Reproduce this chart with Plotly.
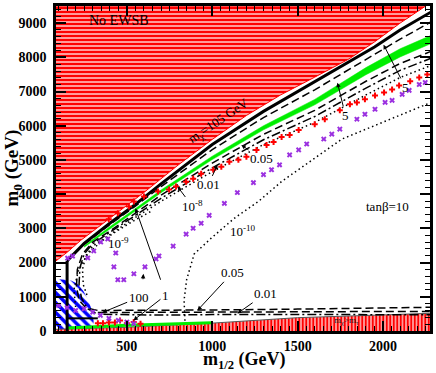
"""
plot.py
=======
m0 - m1/2 plane (tan beta = 10) with excluded regions and contour lines.
"""

import plotly.graph_objects as go

# ── Data (m1/2 , m0 in GeV) ──────────────────────────────────────────────────
# no EWSB boundary (upper left)
ewsb_x = [85, 150, 230, 400, 600, 800, 1000, 1200, 1400, 1600, 1800, 1950, 2100, 2250]
ewsb_y = [2050, 2300, 2650, 3300, 4050, 4850, 5600, 6300, 6900, 7420, 7950, 8450, 9000, 9500]

# chargino limit m_chi = 105 GeV (thick solid)
lep_x = [150, 250, 400, 550, 700, 1000, 1300, 1600, 1800, 1950, 2100, 2290]
lep_y = [2050, 2560, 3150, 3700, 4300, 5450, 6420, 7280, 7850, 8300, 8800, 9350]
lepv_x = [150, 150]
lepv_y = [0, 2050]
leph_x = [150, 330]
leph_y = [370, 370]

# green band (focus point strip)
green_x = [250, 400, 550, 700, 1000, 1300, 1600, 1900, 2100, 2290]
green_hi = [2490, 3050, 3580, 4120, 5110, 6000, 6770, 7700, 8250, 8660]
green_lo = [2450, 2990, 3510, 4040, 5010, 5880, 6610, 7490, 8010, 8420]

# green strip at the bottom (coannihilation)
coan_x = [150, 300, 500, 700, 1000]
coan_y = [90, 130, 170, 200, 240]

# stau LSP region (bottom)
stau_x = [85, 300, 500, 1000, 1500, 2000, 2290]
stau_y = [50, 80, 110, 230, 390, 470, 520]

# blue hatched region (lower left)
blue_x = [85, 170, 210, 245, 275, 295, 305, 305]
blue_y = [1520, 1480, 1380, 1170, 900, 600, 300, 0]

# contour above the green band (dashed)
dup_x = [250, 400, 550, 700, 1000, 1300, 1600, 1900, 2100, 2290]
dup_y = [2530, 3110, 3650, 4220, 5300, 6240, 7050, 7950, 8530, 9060]

# 0.05 contour (dashed)
c005_x = [2290, 2100, 1900, 1600, 1300, 1000, 700, 550, 400, 300, 240, 210, 205, 220,
          260, 330, 600, 1000, 1500, 2000, 2290]
c005_y = [8190, 7820, 7300, 6450, 5750, 4910, 3970, 3440, 2920, 2600, 2250, 1800, 1300, 900,
          680, 600, 600, 615, 640, 670, 695]

# 0.01 contour (dash-dot)
c001_x = [2290, 2100, 1900, 1600, 1300, 1000, 700, 550, 400, 300, 250, 225, 220, 235,
          270, 330, 700, 1000, 1500, 2000, 2290]
c001_y = [7990, 7620, 7100, 6270, 5590, 4770, 3880, 3380, 2870, 2550, 2250, 1850, 1350, 950,
          650, 490, 465, 480, 482, 480, 475]

# second dashed line along the bottom
bot_x = [330, 700, 1000, 1500, 2000, 2290]
bot_y = [540, 550, 560, 565, 570, 572]

# dotted contours in the bundle
dot1_x = [2290, 2100, 1900, 1600, 1300, 1000, 700, 550, 400, 300, 260, 240, 245, 270]
dot1_y = [7780, 7410, 6900, 6100, 5450, 4660, 3790, 3320, 2820, 2480, 2200, 1800, 1350, 1000]
dot2_x = [200, 190, 215, 270, 350, 450, 550, 650]
dot2_y = [700, 1200, 1750, 2250, 2620, 2950, 3250, 3520]

# 10^-10 dotted contour
d10_x = [840, 835, 850, 894, 994, 1129, 1271, 1406, 1759, 2290]
d10_y = [300, 900, 1500, 2250, 2715, 3295, 3790, 4370, 5610, 6700]

# red plus points
plus_x = [394, 447, 512, 541, 600, 682, 747, 788, 847, 888, 935, 1006, 1053, 1100,
          1153, 1200, 1259, 1318, 1359, 1406, 1453, 1506, 1600, 1659, 1747, 1806,
          1847, 1894, 1953, 2006, 2053, 2094, 2159, 2212, 2259,
          330, 360, 395, 430, 460, 500, 540, 580]
plus_y = [3265, 3439, 3641, 3786, 3931, 4076, 4134, 4221, 4366, 4453, 4598, 4714, 4800, 4945,
          5003, 5090, 5293, 5438, 5525, 5670, 5727, 5872, 6046, 6191, 6452, 6626,
          6680, 6771, 6887, 6974, 7061, 7177, 7300, 7409, 7495,
          225, 225, 250, 250, 310, 230, 260, 215]

# purple x points
cross_x = [100, 150, 200, 250, 300, 345, 395, 450, 500, 540,
           153, 182, 271, 306, 347, 388, 435, 424, 447, 482, 541, 606, 671, 688,
           771, 847, 888, 935, 982, 1071, 1147, 1241, 1300, 1347, 1394, 1453, 1506,
           1553, 1653, 1700, 1747, 1847, 1894, 1953, 2012, 2053, 2112, 2153, 2212, 2247]
cross_y = [750, 680, 600, 650, 550, 455, 370, 310, 260, 220,
           2130, 2190, 2135, 2340, 2600, 2690, 2280, 1875, 1498, 1498, 1672, 1875, 2106, 2193,
           2483, 2830, 3004, 3149, 3381, 3729, 4047, 4337, 4569, 4714, 4858, 5148, 5293,
           5467, 5611, 5756, 5901, 6191, 6336, 6481, 6684, 6742, 6916, 7032, 7206, 7264]

SERIF = "Liberation Serif"
GREEN = "#00ee00"

fig = go.Figure()


def add_line(x, y, dash="solid", width=1.3, color="black"):
    fig.add_trace(go.Scatter(
        x=x, y=y, mode="lines",
        line=dict(color=color, width=width, dash=dash),
        hoverinfo="skip", showlegend=False,
    ))


# ── Shaded regions ────────────────────────────────────────────────────────────
fig.add_trace(go.Scatter(
    x=ewsb_x + [ewsb_x[0]], y=ewsb_y + [ewsb_y[-1]],
    mode="lines", fill="toself", fillcolor="white", line=dict(color="red", width=1),
    fillpattern=dict(shape="-", fgcolor="#ff0000", bgcolor="white", size=4,
                     solidity=0.7, fgopacity=1),
    hoverinfo="skip", showlegend=False,
))
fig.add_trace(go.Scatter(
    x=blue_x + [blue_x[0]], y=blue_y + [blue_y[-1]],
    mode="lines", fill="toself", fillcolor="white", line=dict(color="blue", width=0),
    fillpattern=dict(shape="\\", fgcolor="#0000ff", bgcolor="white", size=7,
                     solidity=0.5, fgopacity=1),
    hoverinfo="skip", showlegend=False,
))
fig.add_trace(go.Scatter(
    x=stau_x, y=stau_y,
    mode="lines", fill="tozeroy", fillcolor="white", line=dict(color="#555555", width=1),
    fillpattern=dict(shape="|", fgcolor="#ff0000", bgcolor="white", size=3.5,
                     solidity=0.7, fgopacity=1),
    hoverinfo="skip", showlegend=False,
))
fig.add_trace(go.Scatter(
    x=green_x + green_x[::-1], y=green_hi + green_lo[::-1],
    mode="lines", fill="toself", fillcolor=GREEN, line=dict(color=GREEN, width=0.5),
    hoverinfo="skip", showlegend=False,
))
add_line(coan_x, coan_y, width=3, color=GREEN)

# ── Contours ──────────────────────────────────────────────────────────────────
add_line(d10_x, d10_y, dash="1.5px,3px", width=1.5)
add_line(dot2_x, dot2_y, dash="1.5px,3px", width=1.5)
add_line(dot1_x, dot1_y, dash="1.5px,3px", width=1.5)
add_line(c001_x, c001_y, dash="9px,3px,2px,3px", width=1.5)
add_line(c005_x, c005_y, dash="8px,4px", width=1.5)
add_line(bot_x, bot_y, dash="8px,4px", width=1.5)
add_line(dup_x, dup_y, dash="8px,4px", width=1.5)
add_line(lep_x, lep_y, width=3)
add_line(lepv_x, lepv_y, width=3)
add_line(leph_x, leph_y, width=2)

# ── Scan points ───────────────────────────────────────────────────────────────
fig.add_trace(go.Scatter(
    x=plus_x, y=plus_y, mode="markers",
    marker=dict(symbol="cross", size=5, color="red"),
    hoverinfo="skip", showlegend=False,
))
fig.add_trace(go.Scatter(
    x=cross_x, y=cross_y, mode="markers",
    marker=dict(symbol="x", size=5, color="#9b30e0"),
    hoverinfo="skip", showlegend=False,
))

# ── Labels ────────────────────────────────────────────────────────────────────
LBL = dict(family=SERIF, size=13, color="black")
arrows = [
    # text, text x, text y, tip x, tip y
    ("0.01", 977, 4270, 1030, 4860),
    ("0.05", 1288, 5030, 1170, 5440),
    ("10<sup>-8</sup>", 884, 3640, 797, 4220),
    ("100", 569, 980, 357, 540),
    (" ", 590, 1250, 597, 1670),
    ("1", 726, 1040, 538, 310),
    (" ", 715, 1250, 550, 3590),
    ("0.05", 1117, 1700, 913, 600),
    ("0.01", 1311, 1090, 1147, 510),
    ("5", 1780, 6300, 1733, 7260),
    ("5", 2131, 7120, 2003, 8370),
]
annotations = []
for text, tx, ty, hx, hy in arrows:
    annotations.append(dict(
        x=hx, y=hy, ax=tx, ay=ty, axref="x", ayref="y", xref="x", yref="y",
        text=text, showarrow=True, arrowhead=2, arrowsize=0.9, arrowwidth=1,
        arrowcolor="black", standoff=0, font=LBL,
    ))

plain = [
    ("No EWSB", 455, 9090, 0, 14),
    ("tanβ=10", 2024, 3640, 0, 13),
    ("10<sup>-9</sup>", 452, 2560, 0, 13),
    ("10<sup>-10</sup>", 1178, 2910, 0, 13),
    ("m<sub>χ</sub>=105 GeV", 1036, 6130, -34, 13),
]
for text, tx, ty, ang, sz in plain:
    annotations.append(dict(x=tx, y=ty, text=text, showarrow=False, textangle=ang,
                            font=dict(family=SERIF, size=sz, color="black")))

annotations.append(dict(x=1788, y=310, text="m<sub>χ</sub>>m<sub>τ</sub>",
                        showarrow=False, font=dict(family=SERIF, size=9, color="#222")))

# axis titles
TITLE_FONT = dict(family=SERIF, size=19, color="black", weight="bold")
annotations.append(dict(
    xref="paper", yref="paper", x=-0.115, y=0.503, xanchor="center", yanchor="middle",
    textangle=-90, showarrow=False, text="m<sub>0</sub> (GeV)", font=TITLE_FONT,
))
annotations.append(dict(
    xref="paper", yref="paper", x=0.505, y=-0.048, xanchor="center", yanchor="top",
    showarrow=False, text="m<sub>1/2</sub> (GeV)",
    font=dict(family=SERIF, size=18, color="black", weight="bold"),
))

AXIS = dict(
    showline=True, linewidth=2.5, linecolor="black", mirror="allticks",
    ticks="inside", ticklen=10, tickwidth=2, tickcolor="black",
    showgrid=False, zeroline=False,
    tickfont=dict(family=SERIF, size=14, color="black", weight="bold"),
)

fig.update_layout(
    width=436, height=373,
    margin=dict(l=56, r=6, t=3, b=42),
    paper_bgcolor="white", plot_bgcolor="white",
    showlegend=False,
    annotations=annotations,
    xaxis=dict(range=[85, 2275], dtick=500, tick0=0,
               minor=dict(ticks="inside", ticklen=5, tickwidth=1.3, dtick=50, tick0=0,
                          tickcolor="black"),
               **AXIS),
    yaxis=dict(range=[0, 9500], dtick=1000, tick0=0, ticklabelstandoff=4,
               minor=dict(ticks="inside", ticklen=5, tickwidth=1.3, dtick=200, tick0=0,
                          tickcolor="black"),
               **AXIS),
)

# drop the browser's default page margin so the figure sits at the corner
fig.write_html("out.html", config={"displayModeBar": False},
               post_script="document.body.style.margin='0px';")
